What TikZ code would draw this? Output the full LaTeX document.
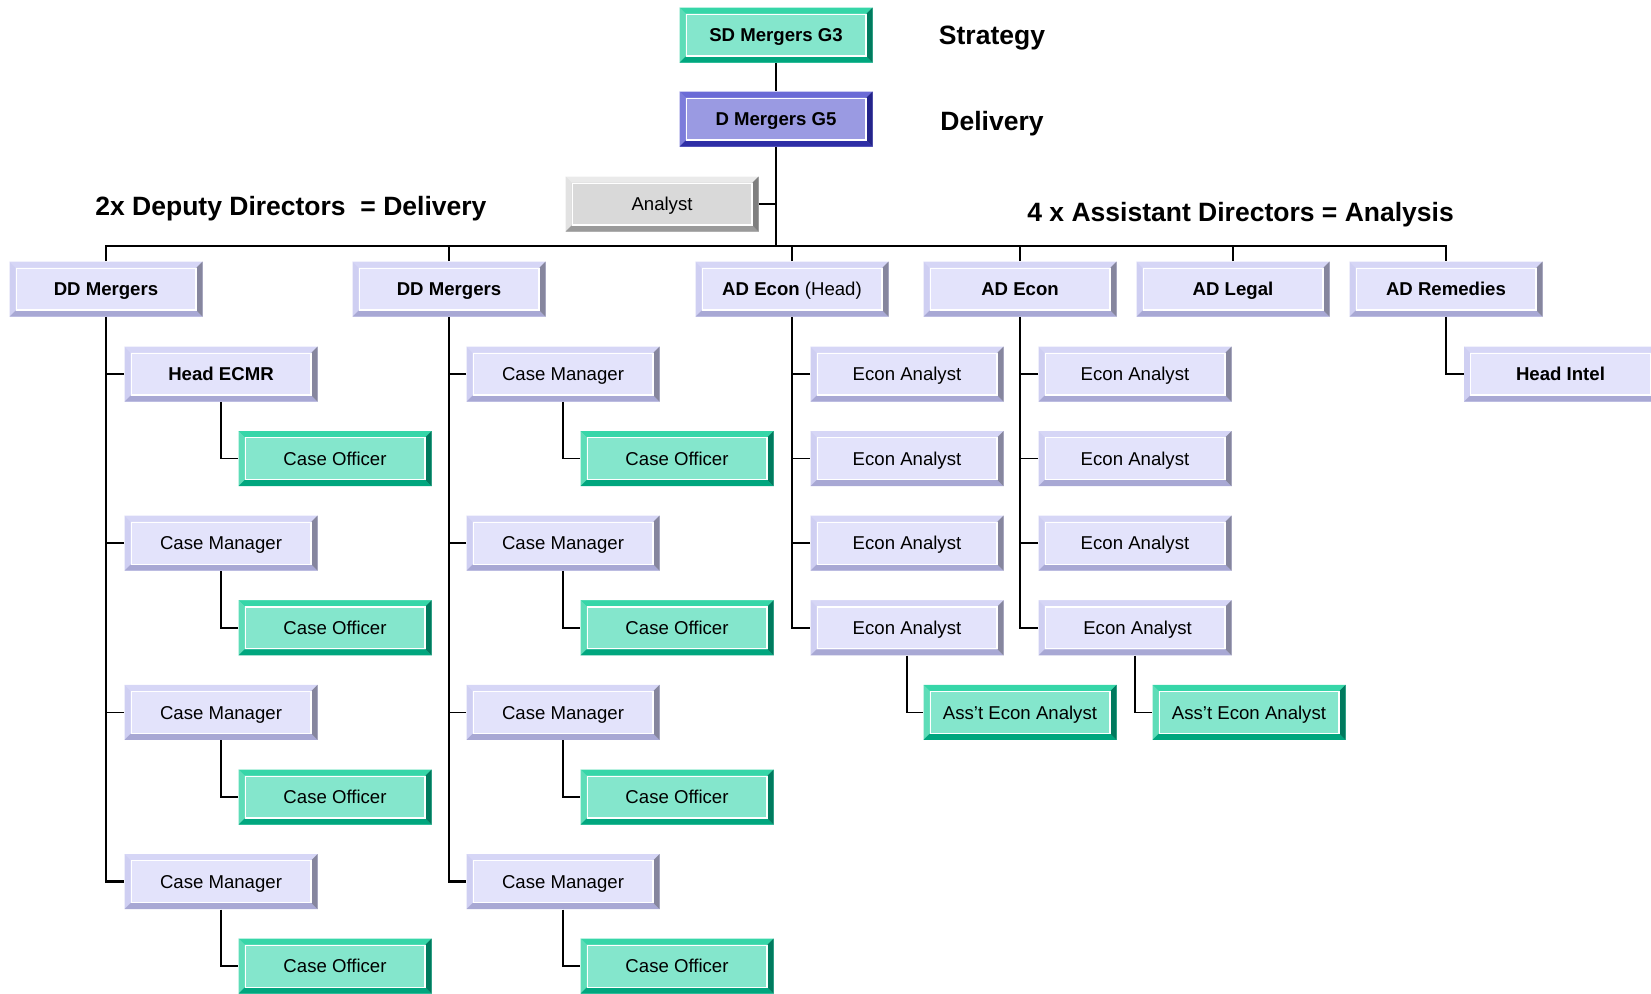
\documentclass[tikz,border=0pt]{standalone}
\usepackage{fontspec}
\setmainfont{Liberation Sans}
\usetikzlibrary{calc}

% Box colours
\definecolor{lavFace}{HTML}{E3E3FB}
\definecolor{lavTop}{HTML}{D6D6F6}
\definecolor{lavLeft}{HTML}{CFCFF2}
\definecolor{lavBot}{HTML}{A8A8D4}
\definecolor{lavRight}{HTML}{86869E}
\definecolor{grnFace}{HTML}{84E6CC}
\definecolor{grnTop}{HTML}{36D6A8}
\definecolor{grnLeft}{HTML}{5EDDB8}
\definecolor{grnBot}{HTML}{00A67E}
\definecolor{grnRight}{HTML}{007A5E}
\definecolor{bluFace}{HTML}{9A9AE2}
\definecolor{bluTop}{HTML}{6B6BD6}
\definecolor{bluLeft}{HTML}{7C7CDB}
\definecolor{bluBot}{HTML}{2E2EA6}
\definecolor{bluRight}{HTML}{24248A}
\definecolor{gryFace}{HTML}{D9D9D9}
\definecolor{gryTop}{HTML}{EAEAEA}
\definecolor{gryLeft}{HTML}{E2E2E2}
\definecolor{gryBot}{HTML}{9A9A9A}
\definecolor{gryRight}{HTML}{7F7F7F}

\tikzset{
  bevel colours/.code n args={4}{\def\bvTop{#1}\def\bvLeft{#2}\def\bvBot{#3}\def\bvRight{#4}},
  box/.style={minimum width=96.5pt, minimum height=27.5pt, inner sep=0pt,
    text height=6.7pt, text depth=0pt,
    font=\fontsize{9.3}{11}\selectfont,
    path picture={
      \coordinate (bbSW) at (path picture bounding box.south west);
      \coordinate (bbNE) at (path picture bounding box.north east);
      \coordinate (bbNW) at (bbSW|-bbNE);
      \coordinate (bbSE) at (bbNE|-bbSW);
      \fill[\bvTop] (bbNW) -- (bbNE) -- ($(bbNE)+(-3pt,-3pt)$) -- ($(bbNW)+(3pt,-3pt)$) -- cycle;
      \fill[\bvLeft] (bbNW) -- (bbSW) -- ($(bbSW)+(3pt,3pt)$) -- ($(bbNW)+(3pt,-3pt)$) -- cycle;
      \fill[\bvBot] (bbSW) -- (bbSE) -- ($(bbSE)+(-3pt,3pt)$) -- ($(bbSW)+(3pt,3pt)$) -- cycle;
      \fill[\bvRight] (bbNE) -- (bbSE) -- ($(bbSE)+(-3pt,3pt)$) -- ($(bbNE)+(-3pt,-3pt)$) -- cycle;
      \draw[white, line width=0.6pt] ($(bbSW)+(3.3pt,3.3pt)$) rectangle ($(bbNE)+(-3.3pt,-3.3pt)$);
    }},
  lav/.style={box, fill=lavFace, bevel colours={lavTop}{lavLeft}{lavBot}{lavRight}},
  grn/.style={box, fill=grnFace, bevel colours={grnTop}{grnLeft}{grnBot}{grnRight}},
  blu/.style={box, fill=bluFace, bevel colours={bluTop}{bluLeft}{bluBot}{bluRight}},
  gry/.style={box, fill=gryFace, bevel colours={gryTop}{gryLeft}{gryBot}{gryRight}},
  heading/.style={inner sep=0pt, text height=9.4pt, text depth=0pt,
    font=\fontsize{13.25}{15}\selectfont\bfseries},
  link/.style={line width=0.8pt},
  trunk/.style={line width=1.2pt}
}

\begin{document}
\begin{tikzpicture}[x=0.5pt, y=-0.5pt]

\useasboundingbox (0,0) rectangle (1651,993);
\clip (0,0) rectangle (1651,993);

% Top of the chart
\node[grn] (sd) at (776,35) {\bfseries SD Mergers G3};
\node[blu] (dm) at (776,119) {\bfseries D Mergers G5};
\node[gry] (an) at (662,204) {Analyst};

% Headings
\node[heading] (strat) at (992,35) {Strategy};
\node[heading] (deliv) at (992,121) {Delivery};
\node[heading, anchor=west] (ddnote) at (95,206) {2x Deputy Directors\ \ = Delivery};
\node[heading, anchor=west] (adnote) at (1027,212) {4 x Assistant Directors = Analysis};

% Bus below the director
\coordinate (bus) at (776,246);

% Deputy and assistant directors
\node[lav] (dd1) at (106,289) {\bfseries DD Mergers};
\node[lav] (dd2) at (449,289) {\bfseries DD Mergers};
\node[lav] (adh) at (792,289) {\textbf{AD Econ} (Head)};
\node[lav] (ade) at (1020,289) {\bfseries AD Econ};
\node[lav] (adl) at (1233,289) {\bfseries AD Legal};
\node[lav] (adr) at (1446,289) {\bfseries AD Remedies};

% First DD team
\node[lav] (hecmr) at (221,374) {\bfseries Head ECMR};
\node[grn] (co11) at (335,458.6) {Case Officer};
\node[lav] (cm12) at (221,543.2) {Case Manager};
\node[grn] (co12) at (335,627.8) {Case Officer};
\node[lav] (cm13) at (221,712.4) {Case Manager};
\node[grn] (co13) at (335,797) {Case Officer};
\node[lav] (cm14) at (221,881.6) {Case Manager};
\node[grn] (co14) at (335,966.2) {Case Officer};

% Second DD team
\node[lav] (cm21) at (563,374) {Case Manager};
\node[grn] (co21) at (677,458.6) {Case Officer};
\node[lav] (cm22) at (563,543.2) {Case Manager};
\node[grn] (co22) at (677,627.8) {Case Officer};
\node[lav] (cm23) at (563,712.4) {Case Manager};
\node[grn] (co23) at (677,797) {Case Officer};
\node[lav] (cm24) at (563,881.6) {Case Manager};
\node[grn] (co24) at (677,966.2) {Case Officer};

% Econ teams
\node[lav] (ea11) at (907,374) {Econ Analyst};
\node[lav] (ea12) at (907,458.6) {Econ Analyst};
\node[lav] (ea13) at (907,543.2) {Econ Analyst};
\node[lav] (ea14) at (907,627.8) {Econ Analyst};
\node[grn] (aea1) at (1020,712.4) {Ass'{}t Econ Analyst};
\node[lav] (ea21) at (1135,374) {Econ Analyst};
\node[lav] (ea22) at (1135,458.6) {Econ Analyst};
\node[lav] (ea23) at (1135,543.2) {Econ Analyst};
\node[lav] (ea24) at (1135,627.8) {\ Econ Analyst};
\node[grn] (aea2) at (1249,712.4) {Ass'{}t Econ Analyst};

% Remedies
\node[lav] (hint) at (1560.5,374) {\bfseries Head Intel};

% Connectors at the top
\draw[link] (sd) -- (dm);
\draw[trunk] (dm.south) -- (bus);
\draw[link] (an.east) -- (an.east -| dm.south);
\draw[trunk] (dd1.north) -- (dd1.north |- bus) -- (adr.north |- bus) -- (adr.north);
\draw[link] (dd2.north) -- (dd2.north |- bus);
\draw[link] (adh.north) -- (adh.north |- bus);
\draw[link] (ade.north) -- (ade.north |- bus);
\draw[link] (adl.north) -- (adl.north |- bus);

% Connectors of the first DD team
\draw[trunk] (dd1.south) |- (cm14.west);
\draw[link] (hecmr.west) -- (hecmr.west -| dd1.south);
\draw[link] (cm12.west) -- (cm12.west -| dd1.south);
\draw[link] (cm13.west) -- (cm13.west -| dd1.south);
\draw[link] (hecmr.south) |- (co11.west);
\draw[link] (cm12.south) |- (co12.west);
\draw[link] (cm13.south) |- (co13.west);
\draw[link] (cm14.south) |- (co14.west);

% Connectors of the second DD team
\draw[trunk] (dd2.south) |- (cm24.west);
\draw[link] (cm21.west) -- (cm21.west -| dd2.south);
\draw[link] (cm22.west) -- (cm22.west -| dd2.south);
\draw[link] (cm23.west) -- (cm23.west -| dd2.south);
\draw[link] (cm21.south) |- (co21.west);
\draw[link] (cm22.south) |- (co22.west);
\draw[link] (cm23.south) |- (co23.west);
\draw[link] (cm24.south) |- (co24.west);

% Connectors of the econ teams
\draw[trunk] (adh.south) |- (ea14.west);
\draw[link] (ea11.west) -- (ea11.west -| adh.south);
\draw[link] (ea12.west) -- (ea12.west -| adh.south);
\draw[link] (ea13.west) -- (ea13.west -| adh.south);
\draw[link] (ea14.south) |- (aea1.west);
\draw[trunk] (ade.south) |- (ea24.west);
\draw[link] (ea21.west) -- (ea21.west -| ade.south);
\draw[link] (ea22.west) -- (ea22.west -| ade.south);
\draw[link] (ea23.west) -- (ea23.west -| ade.south);
\draw[link] (ea24.south) |- (aea2.west);

% Connector of remedies
\draw[link] (adr.south) |- (hint.west);

\end{tikzpicture}
\end{document}
